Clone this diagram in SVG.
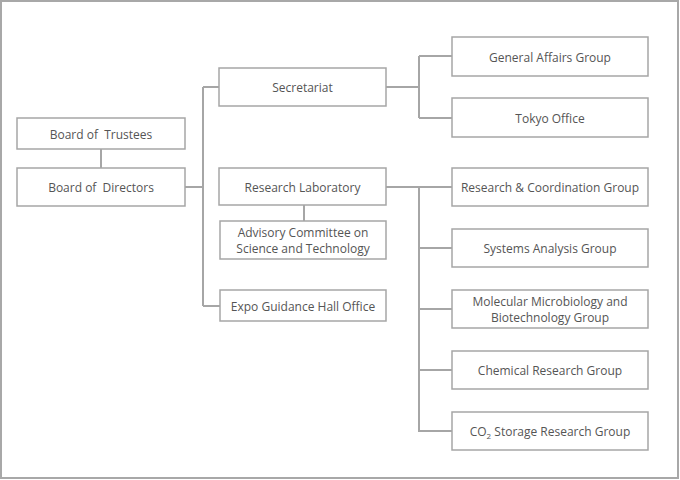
<svg xmlns="http://www.w3.org/2000/svg" width="680" height="480" viewBox="0 0 680 480">
<style>
.bg{fill:#fff}
.frame{fill:none;stroke:#a8a8a8;stroke-width:2}
.box{fill:#fff;stroke:#a6a6a6;stroke-width:1.5}
.ln{fill:none;stroke:#a6a6a6;stroke-width:2}
text{font-family:"Open Sans","Noto Sans","Liberation Sans",sans-serif;font-size:12px;fill:#555;text-anchor:middle;white-space:pre}
</style>
<rect class="bg" x="0" y="0" width="680" height="480"/>
<rect class="frame" x="1" y="1" width="677" height="477"/>
<g id="connectors">
<path class="ln" d="M101 149V168"/>
<path class="ln" d="M185 187H203M203 87V306M203 87H219M203 306H220"/>
<path class="ln" d="M304 205V221"/>
<path class="ln" d="M386 87H419M419 56V118M419 56H452M419 118H452"/>
<path class="ln" d="M386 187H452M419 187V432M419 248H452M419 309H452M419 370H452M419 431H452"/>
</g>
<g id="board-trustees"><rect class="box" x="17" y="118" width="168" height="31"/><text x="101" y="139">Board of  Trustees</text></g>
<g id="board-directors"><rect class="box" x="17" y="168" width="168" height="38"/><text x="101" y="192">Board of  Directors</text></g>
<g id="secretariat"><rect class="box" x="219" y="68" width="167" height="38"/><text x="302.5" y="92">Secretariat</text></g>
<g id="research-lab"><rect class="box" x="219" y="168" width="167" height="37"/><text x="302.5" y="192">Research Laboratory</text></g>
<g id="advisory"><rect class="box" x="220" y="221" width="166" height="38"/><text x="303" y="237">Advisory Committee on</text><text x="303" y="253">Science and Technology</text></g>
<g id="expo"><rect class="box" x="220" y="290" width="166" height="31"/><text x="303" y="311">Expo Guidance Hall Office</text></g>
<g id="general-affairs"><rect class="box" x="452" y="37" width="196" height="39"/><text x="550" y="62">General Affairs Group</text></g>
<g id="tokyo"><rect class="box" x="452" y="98" width="196" height="39"/><text x="550" y="123">Tokyo Office</text></g>
<g id="research-coord"><rect class="box" x="452" y="168" width="196" height="38"/><text x="550" y="192">Research &amp; Coordination Group</text></g>
<g id="systems"><rect class="box" x="452" y="229" width="196" height="38"/><text x="550" y="253">Systems Analysis Group</text></g>
<g id="molecular"><rect class="box" x="452" y="290" width="196" height="38"/><text x="550" y="306">Molecular Microbiology and</text><text x="550" y="322">Biotechnology Group</text></g>
<g id="chemical"><rect class="box" x="452" y="351" width="196" height="38"/><text x="550" y="375">Chemical Research Group</text></g>
<g id="co2"><rect class="box" x="452" y="412" width="196" height="38"/><text x="550" y="436">CO<tspan font-size="8" dy="3">2</tspan><tspan dy="-3"> Storage Research Group</tspan></text></g>
</svg>
